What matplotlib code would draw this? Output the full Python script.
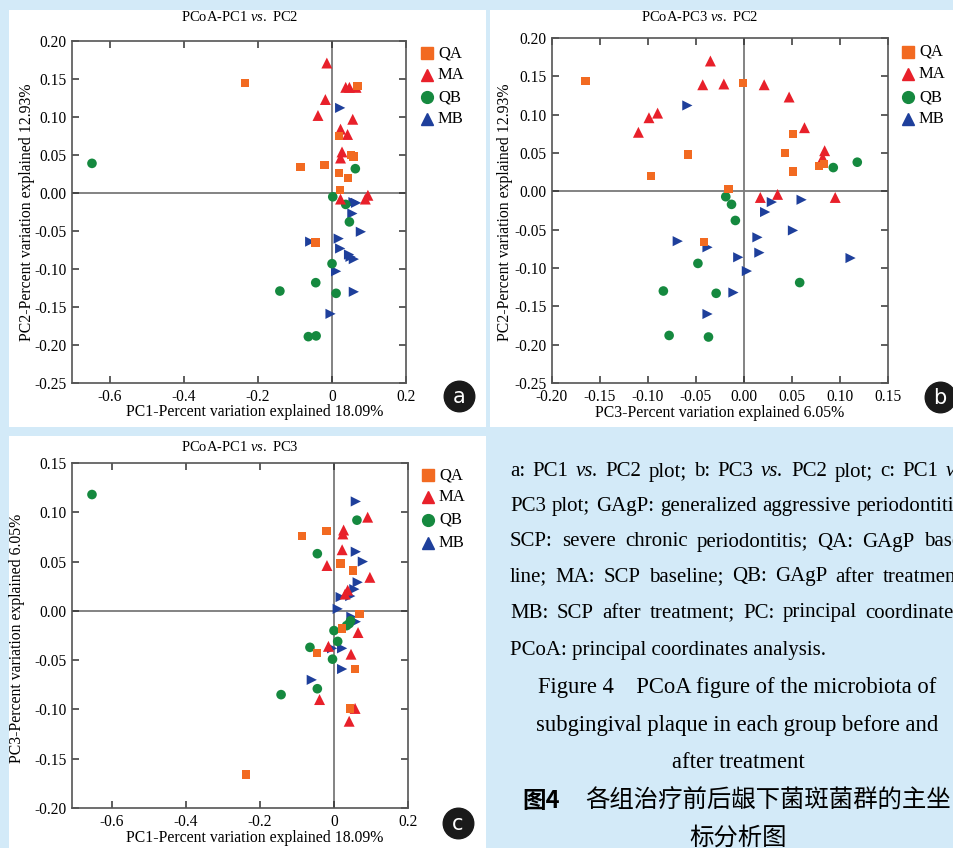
import matplotlib.pyplot as plt
from matplotlib.lines import Line2D
from matplotlib.patches import Rectangle

plt.rcParams['font.family'] = 'Liberation Serif'
plt.rcParams['axes.unicode_minus'] = False
plt.rcParams['mathtext.fontset'] = 'custom'
plt.rcParams['mathtext.rm'] = 'Liberation Serif'
plt.rcParams['mathtext.it'] = 'Liberation Serif:italic'

W, H = 954, 848

# panel a : PC1 vs PC2
a_qa_x = [-0.235, 0.069, 0.018, 0.051, 0.058, -0.085, -0.020, 0.019, 0.044, 0.022, -0.045]
a_qa_y = [0.145, 0.141, 0.075, 0.050, 0.048, 0.034, 0.037, 0.026, 0.020, 0.004, -0.065]
a_ma_x = [-0.014, 0.037, 0.047, 0.065, -0.018, -0.038, 0.056, 0.023, 0.042, 0.027, 0.023, 0.023, 0.097, 0.090]
a_ma_y = [0.171, 0.139, 0.139, 0.139, 0.123, 0.102, 0.097, 0.084, 0.077, 0.054, 0.046, -0.008, -0.003, -0.008]
a_qb_x = [-0.649, 0.063, 0.002, 0.037, 0.047, 0.000, -0.044, -0.141, 0.011, -0.064, -0.043]
a_qb_y = [0.039, 0.032, -0.005, -0.015, -0.038, -0.093, -0.118, -0.129, -0.132, -0.189, -0.188]
a_mb_x = [0.022, 0.058, 0.065, 0.055, 0.078, 0.018, -0.059, 0.022, 0.046, 0.059, 0.050, 0.011, 0.059, -0.004]
a_mb_y = [0.112, -0.012, -0.013, -0.027, -0.051, -0.060, -0.064, -0.073, -0.081, -0.087, -0.084, -0.103, -0.130, -0.159]

# panel b : PC3 vs PC2
b_qa_x = [-0.165, -0.001, -0.058, -0.097, -0.016, 0.051, 0.043, 0.051, 0.078, 0.083, -0.042]
b_qa_y = [0.144, 0.141, 0.048, 0.020, 0.003, 0.075, 0.050, 0.026, 0.033, 0.036, -0.066]
b_ma_x = [-0.035, -0.043, -0.021, -0.110, -0.099, -0.090, 0.021, 0.047, 0.063, 0.084, 0.082, 0.017, 0.035, 0.095]
b_ma_y = [0.170, 0.139, 0.140, 0.077, 0.096, 0.102, 0.139, 0.123, 0.083, 0.053, 0.044, -0.008, -0.004, -0.008]
b_qb_x = [0.118, 0.093, -0.019, -0.013, -0.009, -0.048, -0.084, -0.029, -0.078, -0.037, 0.058]
b_qb_y = [0.038, 0.031, -0.007, -0.017, -0.038, -0.094, -0.130, -0.133, -0.188, -0.190, -0.119]
b_mb_x = [-0.059, 0.029, 0.060, 0.022, 0.051, 0.014, 0.016, -0.006, 0.003, 0.111, -0.011, -0.069, -0.038, -0.038]
b_mb_y = [0.112, -0.014, -0.011, -0.027, -0.051, -0.060, -0.080, -0.086, -0.104, -0.087, -0.132, -0.065, -0.073, -0.160]

# panel c : PC1 vs PC3
c_qa_x = [-0.086, -0.020, 0.018, 0.051, 0.069, 0.022, -0.046, 0.057, 0.043, -0.238]
c_qa_y = [0.076, 0.081, 0.048, 0.041, -0.003, -0.018, -0.043, -0.059, -0.099, -0.166]
c_ma_x = [0.091, 0.026, 0.024, 0.022, -0.019, 0.097, 0.037, 0.030, 0.065, -0.015, 0.046, -0.039, 0.057, 0.041]
c_ma_y = [0.095, 0.082, 0.078, 0.062, 0.046, 0.034, 0.021, 0.017, -0.022, -0.036, -0.044, -0.090, -0.099, -0.112]
c_qb_x = [-0.654, 0.062, -0.045, 0.041, 0.034, 0.045, 0.000, 0.010, -0.065, -0.004, -0.045, -0.143]
c_qb_y = [0.118, 0.092, 0.058, -0.013, -0.015, -0.010, -0.020, -0.031, -0.037, -0.049, -0.079, -0.085]
c_mb_x = [0.059, 0.059, 0.078, 0.064, 0.055, 0.044, 0.018, 0.010, 0.047, 0.059, -0.005, 0.022, 0.022, -0.060]
c_mb_y = [0.111, 0.060, 0.050, 0.029, 0.022, 0.015, 0.014, 0.002, -0.006, -0.011, -0.038, -0.038, -0.059, -0.070]

groups = ['QA', 'MA', 'QB', 'MB']
colors = {'QA': '#f26a21', 'MA': '#e8202a', 'QB': '#15893f', 'MB': '#1e3f9b'}
markers = {'QA': 's', 'MA': '^', 'QB': 'o', 'MB': '>'}
sizes = {'QA': 36, 'MA': 62, 'QB': 48, 'MB': 54}
leg_markers = {'QA': 's', 'MA': '^', 'QB': 'o', 'MB': '^'}

bg = '#d3eaf8'


def fx(px):
    return px / W


def fy(py):
    return 1 - py / H


def add_axes(l, t, r, b):
    return fig.add_axes([l / W, 1 - b / H, (r - l) / W, (b - t) / H])


fig = plt.figure(figsize=(W / 100, H / 100), dpi=100, facecolor=bg)

# white panels
for (l, t, r, b) in [(9, 10, 486, 427), (490, 10, 960, 427), (9, 436, 486, 860)]:
    fig.add_artist(Rectangle((fx(l), fy(b)), (r - l) / W, (b - t) / H,
                             transform=fig.transFigure, facecolor='white', edgecolor='none', zorder=0))


def panel(ax, data, xlim, ylim, xticks, yticks, xfmt, yfmt):
    ax.set_facecolor('white')
    ax.axhline(0, color='#7a7a7a', lw=1.3, zorder=1)
    ax.axvline(0, color='#7a7a7a', lw=1.3, zorder=1)
    for g in ['MB', 'QB', 'MA', 'QA']:
        x, y = data[g]
        ax.scatter(x, y, marker=markers[g], s=sizes[g], color=colors[g], edgecolors='none', zorder=3)
    ax.set_xlim(*xlim)
    ax.set_ylim(*ylim)
    ax.set_xticks(xticks)
    ax.set_yticks(yticks)
    ax.set_xticklabels([xfmt(v) for v in xticks])
    ax.set_yticklabels([yfmt(v) for v in yticks])
    ax.tick_params(direction='in', top=True, right=True, length=5, width=1.1,
                   labelsize=11.2, color='#333333', pad=4)
    for s in ax.spines.values():
        s.set_color('#555555')
        s.set_linewidth(1.2)


def fmt1(v):
    return '0' if abs(v) < 1e-9 else '%.1f' % v


def fmt2(v):
    return '%.2f' % (0 if abs(v) < 1e-9 else v)


axa = add_axes(72, 41, 406, 383)
panel(axa, {'QA': (a_qa_x, a_qa_y), 'MA': (a_ma_x, a_ma_y), 'QB': (a_qb_x, a_qb_y), 'MB': (a_mb_x, a_mb_y)},
      (-0.703, 0.2), (-0.25, 0.2), [-0.6, -0.4, -0.2, 0, 0.2],
      [0.2, 0.15, 0.1, 0.05, 0, -0.05, -0.1, -0.15, -0.2, -0.25], fmt1, fmt2)

axb = add_axes(552, 38, 888, 383)
panel(axb, {'QA': (b_qa_x, b_qa_y), 'MA': (b_ma_x, b_ma_y), 'QB': (b_qb_x, b_qb_y), 'MB': (b_mb_x, b_mb_y)},
      (-0.2, 0.15), (-0.25, 0.2), [-0.2, -0.15, -0.1, -0.05, 0, 0.05, 0.1, 0.15],
      [0.2, 0.15, 0.1, 0.05, 0, -0.05, -0.1, -0.15, -0.2, -0.25], fmt2, fmt2)

axc = add_axes(72, 463, 408, 808)
panel(axc, {'QA': (c_qa_x, c_qa_y), 'MA': (c_ma_x, c_ma_y), 'QB': (c_qb_x, c_qb_y), 'MB': (c_mb_x, c_mb_y)},
      (-0.708, 0.2), (-0.2, 0.15), [-0.6, -0.4, -0.2, 0, 0.2],
      [0.15, 0.1, 0.05, 0, -0.05, -0.1, -0.15, -0.2], fmt1, fmt2)

# titles and axis labels
fig.text(fx(240), fy(17), r'PCoA-PC1 $\mathit{vs.}$ PC2', ha='center', va='center', fontsize=10.5)
fig.text(fx(700), fy(17), r'PCoA-PC3 $\mathit{vs.}$ PC2', ha='center', va='center', fontsize=10.5)
fig.text(fx(240), fy(447), r'PCoA-PC1 $\mathit{vs.}$ PC3', ha='center', va='center', fontsize=10.5)

fig.text(fx(27), fy(212), 'PC2-Percent variation explained 12.93%', rotation=90, ha='center', va='center', fontsize=11.3)
fig.text(fx(255), fy(412), 'PC1-Percent variation explained 18.09%', ha='center', va='center', fontsize=11.3)
fig.text(fx(505), fy(212), 'PC2-Percent variation explained 12.93%', rotation=90, ha='center', va='center', fontsize=11.3)
fig.text(fx(720), fy(413), 'PC3-Percent variation explained 6.05%', ha='center', va='center', fontsize=11.3)
fig.text(fx(17), fy(638), 'PC3-Percent variation explained 6.05%', rotation=90, ha='center', va='center', fontsize=11.3)
fig.text(fx(255), fy(838), 'PC1-Percent variation explained 18.09%', ha='center', va='center', fontsize=11.3)

# legends
for mx, rows in [(427, [53, 75, 97, 119]), (908, [52, 74, 97, 119]), (428, [475, 497, 520, 543])]:
    for g, ry in zip(groups, rows):
        fig.add_artist(Line2D([fx(mx)], [fy(ry)], marker=leg_markers[g], color=colors[g],
                              markersize=8.5, linestyle='none', transform=fig.transFigure))
        fig.text(fx(mx + 11), fy(ry), g, ha='left', va='center', fontsize=12)

# panel letters
for lx, ly, s in [(459, 396, 'a'), (940, 397, 'b'), (458, 823, 'c')]:
    fig.add_artist(Line2D([fx(lx)], [fy(ly)], marker='o', color='#1a1a1a', markersize=22,
                          linestyle='none', transform=fig.transFigure))
    fig.text(fx(lx), fy(ly + 1), s, ha='center', va='center', fontsize=15, color='white',
             family='DejaVu Sans')

# caption (justified notes, cut at the right edge like the page crop)
notes = [
    'a: PC1 _vs. PC2 plot; b: PC3 _vs. PC2 plot; c: PC1 _vs.',
    'PC3 plot; GAgP: generalized aggressive periodontitis;',
    'SCP: severe chronic periodontitis; QA: GAgP base-',
    'line; MA: SCP baseline; QB: GAgP after treatment;',
    'MB: SCP after treatment; PC: principal coordinates;',
]
note_y = [472, 507, 542, 577, 613]
renderer = fig.canvas.get_renderer()
x0, x1 = 510, 968
for line, ly in zip(notes, note_y):
    words = line.split(' ')
    items = []
    for w in words:
        it = w.startswith('_')
        t = fig.text(0, fy(ly), w.lstrip('_'), fontsize=15, va='center', ha='left',
                     fontstyle='italic' if it else 'normal')
        items.append((t, t.get_window_extent(renderer).width))
    total = sum(wd for _, wd in items)
    gap = (x1 - x0 - total) / (len(items) - 1)
    cx = x0
    for t, wd in items:
        t.set_x(fx(cx))
        cx += wd + gap
fig.text(fx(510), fy(650), 'PCoA: principal coordinates analysis.', fontsize=15, va='center', ha='left')

fig.text(fx(737), fy(687), 'Figure 4    PCoA figure of the microbiota of', fontsize=16.3, va='center', ha='center')
fig.text(fx(737), fy(725), 'subgingival plaque in each group before and', fontsize=16.3, va='center', ha='center')
fig.text(fx(738), fy(763), 'after treatment', fontsize=16.3, va='center', ha='center')

fig.text(fx(522), fy(801), '图4', fontsize=17, va='center', ha='left', family='Noto Sans CJK SC', weight='bold')
fig.text(fx(585), fy(801), '各组治疗前后龈下菌斑菌群的主坐', fontsize=17.6, va='center', ha='left',
         family='Noto Sans CJK SC')
fig.text(fx(738), fy(838), '标分析图', fontsize=17.6, va='center', ha='center', family='Noto Sans CJK SC')

fig.savefig('out.png', dpi=100, facecolor=bg)
